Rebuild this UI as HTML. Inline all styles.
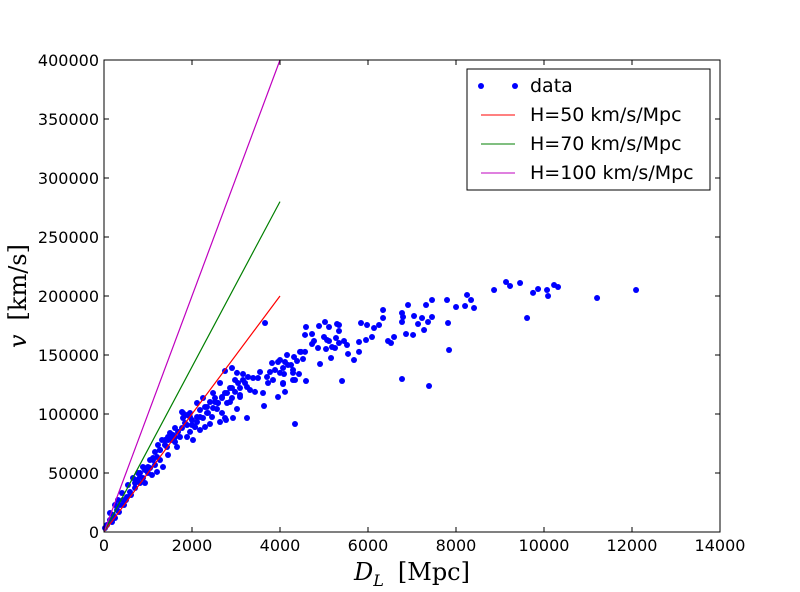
<!DOCTYPE html>
<html><head><meta charset="utf-8"><style>
body{margin:0;background:#fff}
svg{display:block}
.tk{font-family:"DejaVu Sans",sans-serif;font-size:16px;fill:#000}
.lg{font-family:"DejaVu Sans",sans-serif;font-size:19px;fill:#000}
.ax{font-family:"DejaVu Serif","Liberation Serif",serif;font-size:24px;fill:#000}
</style></head><body>
<svg id="chart" width="800" height="592" viewBox="0 0 800 592" xmlns="http://www.w3.org/2000/svg">
<rect width="800" height="592" fill="#fff"/>
<g id="marks"></g>
<g id="axes"></g>
<text class="ax" x="412" y="580" text-anchor="middle"><tspan font-style="italic">D</tspan><tspan font-style="italic" font-size="16" dy="6">L</tspan><tspan dy="-6" dx="14">[Mpc]</tspan></text>
<text class="ax" transform="translate(26,296) rotate(-90)" text-anchor="middle"><tspan font-style="italic">v</tspan><tspan dx="14">[km/s]</tspan></text>
<g>
<rect x="467" y="69" width="243" height="121" fill="#fff" stroke="#000" stroke-width="1"/>
<g><circle cx="481" cy="86" r="3" fill="#0000ff"/><circle cx="515" cy="86" r="3" fill="#0000ff"/><text class="lg" x="530" y="92">data</text></g>
<g><line x1="481" y1="115" x2="515" y2="115" stroke="#ff0000"/><text class="lg" x="530" y="121">H=50 km/s/Mpc</text></g>
<g><line x1="481" y1="144" x2="515" y2="144" stroke="#007f00"/><text class="lg" x="530" y="150">H=70 km/s/Mpc</text></g>
<g><line x1="481" y1="173" x2="515" y2="173" stroke="#bf00bf"/><text class="lg" x="530" y="179">H=100 km/s/Mpc</text></g>
</g>
</svg>
<script>
const dist=[4591,4569,4728,4887,5023,5114,5296,5341,5341,5000,5069,5114,5273,4773,4728,4864,5046,5182,5250,5341,5455,5523,5546,5160,4910,5410,5682,5796,5796,5955,6091,5841,5978,6137,6251,6342,6342,6455,6523,6592,6773,6773,6796,6910,6864,7024,7046,7137,7228,7274,7364,7319,7455,7455,7796,7819,7842,8001,8206,8251,8342,8410,6773,7387,4341,8865,9137,9228,9456,9751,9865,10069,10092,10229,10319,9615,11206,12092,4591,4069,4114,4341,4432,4296,4387,4523,4478,4569,4160,4319,4000,4114,4251,4091,
2750,2909,3023,3159,3205,3273,3387,3432,3614,3637,3728,3773,3819,3955,4000,4069,3955,4296,4455,3250,3023,2932,2773,2682,2568,2409,2523,2478,2591,2796,2909,2978,2637,2341,2182,2114,2000,1955,1796,1773,1887,2023,1887,1727,1614,1546,1659,1432,1455,1273,1273,1341,1159,1114,1046,1000,886,818,750,705,591,523,432,364,295,205,136,68,23,818,659,545,409,318,250,136,1091,1205,932,2250,2114,1955,2068,2182,2296,2455,2341,2682,2864,3091,3091,3318,3500,3546,3705,3841,3887,4069,4182,4296,1841,1500,1386,3660,
705,818,932,1000,1114,1205,1273,1386,1455,1568,1614,1682,1773,1796,1887,1955,2000,2068,2114,2182,2250,2296,2364,2409,2478,2523,2591,2682,2750,2796,2864,2909,2978,3046,3091,3159,3250,2637,2750,1318,1159,1046,886,773,1227,1455,1614,182,250,341,455,500,614];
const vel=[173700,167000,167800,174600,178000,173700,176300,175400,170300,165300,162700,161900,164400,161900,159300,155900,155100,156800,155900,160200,161900,158500,150900,147500,142400,128000,145800,152600,161000,162700,165300,177100,175400,172900,175400,181400,188100,161900,160200,165300,185600,178000,182200,192400,167800,167000,183100,176300,181400,171200,178000,192400,196600,182200,196600,177100,154200,190700,191500,200900,196600,189800,129700,123700,91500,205100,211900,208500,211000,202600,205900,205100,200000,209300,207600,181400,198300,205100,128000,125400,118700,128800,133900,137300,144900,146600,152600,152600,150000,148300,145800,144100,141500,133900,
136400,139000,134800,133900,126300,131400,130500,118700,117800,106800,126300,135600,143200,144100,134800,126300,114400,128800,152600,96600,104200,96600,94900,100900,104200,91500,110200,117800,109300,117800,122000,128800,126300,105900,97500,93200,90700,84800,96600,101700,99200,78000,80500,80500,80500,78000,72000,72000,65300,69500,61000,55100,56800,62700,54200,50000,45800,41500,44100,37300,33900,29700,27100,22900,18600,14400,10200,5900,3400,50000,45800,39800,33100,27100,22900,16100,48300,50900,41500,113600,109300,97500,89000,86400,89000,97500,100900,113600,110200,114400,122000,120300,130500,135600,131400,128800,137300,139000,141500,134800,92400,83900,78000,177100,
41500,46600,52500,55100,61000,63600,69500,73700,78000,82200,76300,84800,88100,100900,90700,100900,94900,89000,97500,103400,96600,105900,100900,110200,105100,113600,109300,114400,117800,109300,122000,113600,118700,126300,116100,128800,122900,93200,96600,78000,67800,61000,55100,50000,73700,80500,88100,8500,11900,16900,22900,27100,31400];
const hubble=[50,70,100];
const lineEnd=[0,4000];
const xTicks=[0,2000,4000,6000,8000,10000,12000,14000];
const yTicks=[0,50000,100000,150000,200000,250000,300000,350000,400000];
const colors=["#ff0000","#007f00","#bf00bf"];
const L=104,R=720,T=60,B=532;
const sx=d=>L+d/14000*(R-L);
const sy=v=>B-v/400000*(B-T);
const NS="http://www.w3.org/2000/svg";
const marks=document.getElementById('marks'),axes=document.getElementById('axes');
function mk(tag,attrs,parent){const e=document.createElementNS(NS,tag);for(const k in attrs)e.setAttribute(k,attrs[k]);parent.appendChild(e);return e;}
for(let i=0;i<dist.length;i++){
 const c=mk('circle',{cx:sx(dist[i]),cy:sy(vel[i]),r:3,fill:'#0000ff'},marks);
 
 
}
hubble.forEach((h,i)=>{
 const l=mk('line',{x1:sx(lineEnd[0]),y1:sy(h*lineEnd[0]),x2:sx(lineEnd[1]),y2:sy(h*lineEnd[1]),stroke:colors[i],'stroke-width':1.2},marks);
 
 
});
const fr=mk('rect',{x:L,y:T,width:R-L,height:B-T,fill:'none',stroke:'#000','stroke-width':1},axes);


xTicks.forEach(t=>{
 const x=sx(t);
 mk('line',{x1:x,y1:B,x2:x,y2:B-5,stroke:'#000'},axes);
 mk('line',{x1:x,y1:T,x2:x,y2:T+5,stroke:'#000'},axes);
 const tx=mk('text',{x:x,y:B+19,'text-anchor':'middle',class:'tk'},axes);
 tx.textContent=t;
 
 
});
yTicks.forEach(t=>{
 const y=sy(t);
 mk('line',{x1:L,y1:y,x2:L+5,y2:y,stroke:'#000'},axes);
 mk('line',{x1:R,y1:y,x2:R-5,y2:y,stroke:'#000'},axes);
 const tx=mk('text',{x:L-5,y:y+6,'text-anchor':'end',class:'tk'},axes);
 tx.textContent=t;
 
 
});
</script>
</body></html>
